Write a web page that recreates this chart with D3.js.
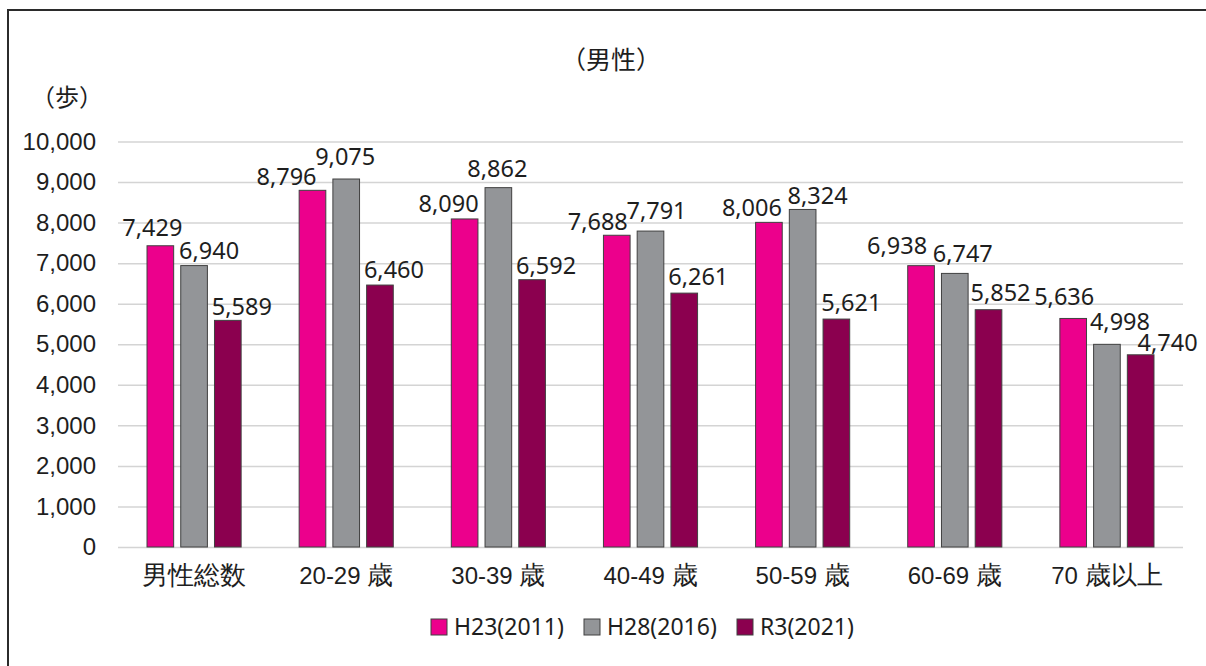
<!DOCTYPE html>
<html>
<head>
<meta charset="utf-8">
<script src="https://cdn.jsdelivr.net/npm/d3@7"></script>
<style>
	body { margin: 0; background: #ffffff; }
	svg { display: block; font-family: "Noto Sans", "Noto Sans CJK JP", sans-serif; }
</style>
</head>
<body>
<div id="chart"></div>
<script>
// categories and series
const categories = ['男性総数', '20-29 歳', '30-39 歳', '40-49 歳', '50-59 歳', '60-69 歳', '70 歳以上'];
const seriesNames = ['H23(2011)', 'H28(2016)', 'R3(2021)'];
const h23 = [7429, 8796, 8090, 7688, 8006, 6938, 5636];
const h28 = [6940, 9075, 8862, 7791, 8324, 6747, 4998];
const r3 = [5589, 6460, 6592, 6261, 5621, 5852, 4740];
const yTicks = [0, 1000, 2000, 3000, 4000, 5000, 6000, 7000, 8000, 9000, 10000];

const colors = ['#ec008c', '#939598', '#8b004f'];

// label nudges (the original labels were dragged by hand), [dx, dy] per bar
const labelShift = [
	[[-8, -10], [15, -7], [14, -5]],
	[[-26, -5], [-1, -14], [14, -7]],
	[[-16, -7], [-1, -11], [14, -6]],
	[[-19, -5], [6, -12], [14, -8]],
	[[-17, -6], [15, -5], [15, -8]],
	[[-24, -12], [8, -11], [12, -9]],
	[[-9, -13], [13, -14], [27, -4]]
];

const width = 1206, height = 666;
const plotLeft = 118, plotRight = 1183, plotTop = 141.5, plotBottom = 547;
const ink = '#1e1e1e';

let svg = d3.select('#chart').append('svg')
	.attr('width', width)
	.attr('height', height);

// outer frame (runs off the right and bottom edge)
svg.append('rect')
	.attr('x', 8)
	.attr('y', 10)
	.attr('width', 1400)
	.attr('height', 900)
	.attr('fill', 'none')
	.attr('stroke', '#2b2b2b')
	.attr('stroke-width', 2);

let x0 = d3.scaleBand()
	.domain(categories)
	.range([plotLeft, plotRight])
	.padding(0);

let x1 = d3.scaleBand()
	.domain(seriesNames)
	.range([0, x0.bandwidth()])
	.paddingInner(0.21)
	.paddingOuter(0.86);

let y = d3.scaleLinear()
	.domain([0, 10000])
	.range([plotBottom, plotTop]);

// grid + y axis
let yAxis = d3.axisLeft(y)
	.tickValues(yTicks)
	.tickSize(-(plotRight - plotLeft))
	.tickPadding(22)
	.tickFormat(d3.format(','));

let gy = svg.append('g')
	.attr('transform', `translate(${plotLeft},0)`)
	.call(yAxis);

gy.select('.domain').remove();
gy.selectAll('line')
	.attr('stroke', '#d4d4d4')
	.attr('stroke-width', 1.5);
gy.selectAll('text')
	.attr('fill', ink)
	.style('font-size', '24px');

// x axis labels
let xAxis = d3.axisBottom(x0)
	.tickSize(0)
	.tickPadding(20);

let gx = svg.append('g')
	.attr('transform', `translate(0,${plotBottom})`)
	.call(xAxis);

gx.select('.domain').remove();

// kanji a bit larger than the digits, as in the original
gx.selectAll('text')
	.attr('fill', ink)
	.style('font-size', '24px')
	.each(function(d) {
		let t = d3.select(this);
		t.text(null);
		let parts = d.match(/[\u3000-\u9fff]+|[^\u3000-\u9fff]+/g);
		parts.forEach(p => {
			t.append('tspan')
				.style('font-size', /[\u3000-\u9fff]/.test(p) ? '26px' : '24px')
				.text(p);
		});
	});

// bars
let rows = categories.map((c, i) => ({
	cat: c,
	vals: [h23[i], h28[i], r3[i]],
	idx: i
}));

let group = svg.append('g')
	.selectAll('g')
	.data(rows)
	.enter()
	.append('g')
	.attr('transform', d => `translate(${x0(d.cat)},0)`);

group.selectAll('rect')
	.data(d => d.vals.map((v, j) => ({ v: v, s: seriesNames[j], j: j, i: d.idx })))
	.enter()
	.append('rect')
	.attr('x', d => x1(d.s))
	.attr('y', d => y(d.v))
	.attr('width', x1.bandwidth())
	.attr('height', d => y(0) - y(d.v))
	.attr('fill', d => colors[d.j])
	.attr('stroke', '#404040')
	.attr('stroke-width', 1);

group.selectAll('text')
	.data(d => d.vals.map((v, j) => ({ v: v, s: seriesNames[j], j: j, i: d.idx })))
	.enter()
	.append('text')
	.attr('x', d => x1(d.s) + x1.bandwidth() / 2 + labelShift[d.i][d.j][0])
	.attr('y', d => y(d.v) + labelShift[d.i][d.j][1])
	.attr('text-anchor', 'middle')
	.attr('fill', ink)
	.style('font-size', '23.5px')
	.text(d => d3.format(',')(d.v));

// titles
svg.append('text')
	.attr('x', 611)
	.attr('y', 69)
	.attr('text-anchor', 'middle')
	.attr('fill', ink)
	.style('font-size', '25px')
	.text('（男性）');

svg.append('text')
	.attr('x', 67)
	.attr('y', 106)
	.attr('text-anchor', 'middle')
	.attr('fill', ink)
	.style('font-size', '24px')
	.text('（歩）');

// legend
let legendX = [431, 584, 737];
let legend = svg.append('g')
	.selectAll('g')
	.data(seriesNames)
	.enter()
	.append('g')
	.attr('transform', (d, i) => `translate(${legendX[i]},619)`);

legend.append('rect')
	.attr('width', 16)
	.attr('height', 16)
	.attr('fill', (d, i) => colors[i])
	.attr('stroke', '#404040')
	.attr('stroke-width', 1);

legend.append('text')
	.attr('x', 23)
	.attr('y', 16)
	.attr('fill', ink)
	.style('font-size', '23px')
	.text(d => d);
</script>
</body>
</html>
